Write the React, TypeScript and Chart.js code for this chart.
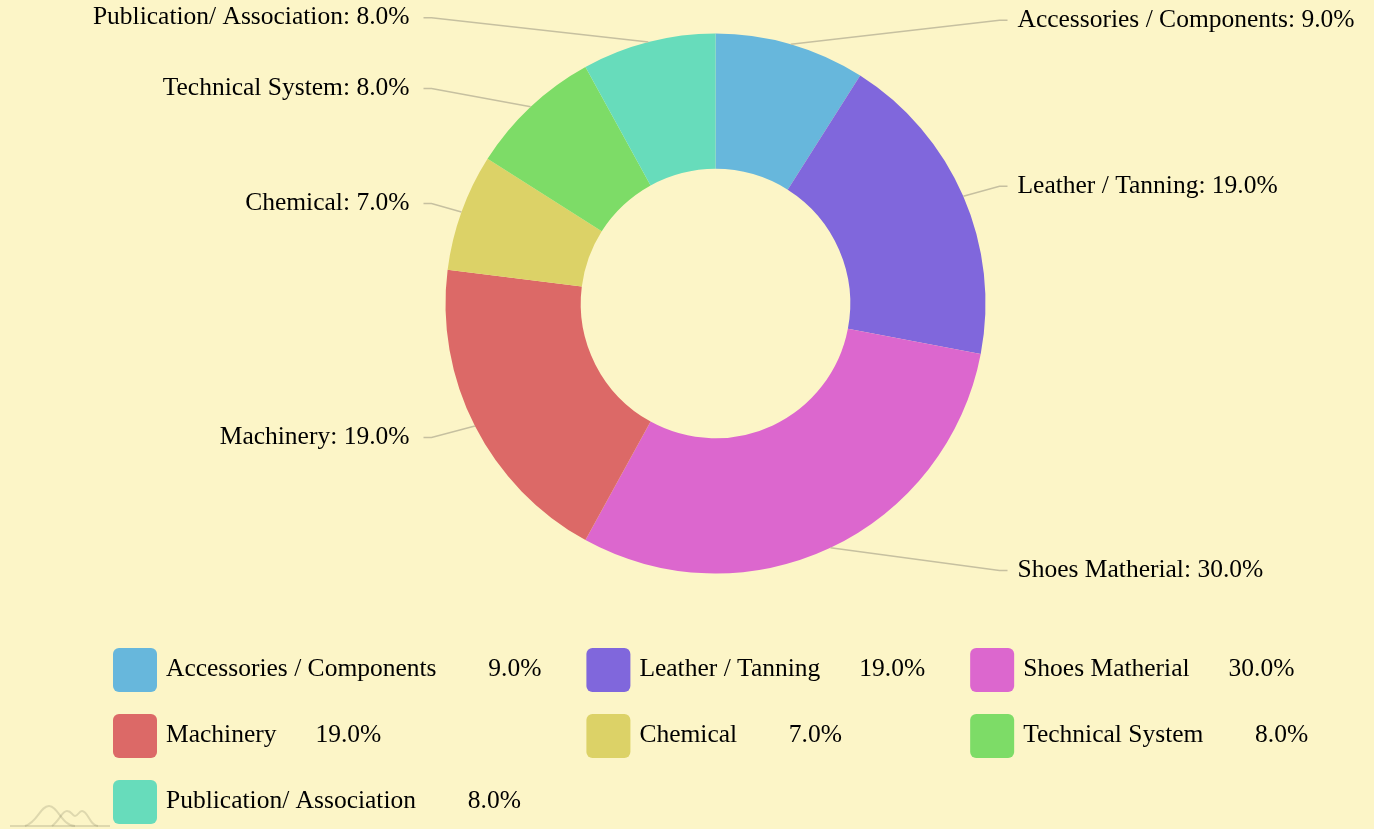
import React, { useEffect, useRef } from 'react';
import { Chart, registerables } from 'chart.js';

Chart.register(...registerables);

// ---- data ----
const categories = [
  'Accessories / Components',
  'Leather / Tanning',
  'Shoes Matherial',
  'Machinery',
  'Chemical',
  'Technical System',
  'Publication/ Association',
];
const shares = [9, 19, 30, 19, 7, 8, 8];
const sliceColors = ['#67b7dc', '#8067dc', '#dc67ce', '#dc6967', '#dcd267', '#7ddc67', '#67dcbb'];

// ---- style ----
const BG = '#fcf5c7';
const FONT = '25.5px "Liberation Serif", "Times New Roman", serif';
const TICK_COLOR = '#c6c0a0';

const pct = (v: number, total: number) => ((v / total) * 100).toFixed(1) + '%';

const outsideLabels = {
  id: 'outsideLabels',
  afterDatasetsDraw(chart: any) {
    const ctx = chart.ctx as CanvasRenderingContext2D;
    const meta = chart.getDatasetMeta(0);
    const data = chart.data.datasets[0].data as number[];
    const labels = chart.data.labels as string[];
    const total = data.reduce((a, b) => a + b, 0);
    ctx.save();
    ctx.font = FONT;
    meta.data.forEach((arc: any, i: number) => {
      const { x, y, startAngle, endAngle, outerRadius } = arc.getProps(
        ['x', 'y', 'startAngle', 'endAngle', 'outerRadius'],
        true
      );
      const mid = (startAngle + endAngle) / 2;
      const c = Math.cos(mid);
      const s = Math.sin(mid);
      const p1x = x + outerRadius * c;
      const p1y = y + outerRadius * s;
      const ly = y + (outerRadius + 25) * s;
      const right = c >= 0;
      const bendX = right ? x + outerRadius + 14 : x - outerRadius - 14;
      const endX = right ? bendX + 8 : bendX - 8;
      ctx.strokeStyle = TICK_COLOR;
      ctx.lineWidth = 1.5;
      ctx.beginPath();
      ctx.moveTo(p1x, p1y);
      ctx.lineTo(bendX, ly);
      ctx.lineTo(endX, ly);
      ctx.stroke();
      ctx.fillStyle = '#000';
      ctx.textAlign = right ? 'left' : 'right';
      ctx.textBaseline = 'middle';
      ctx.fillText(`${labels[i]}: ${pct(data[i], total)}`, right ? endX + 10 : endX - 14, ly);
    });
    ctx.restore();
  },
};

const LEGEND_LEFT = 113;
const LEGEND_TOP = 648;
const LEGEND_COLS = 3;

const bottomLegend = {
  id: 'bottomLegend',
  afterDraw(chart: any) {
    const ctx = chart.ctx as CanvasRenderingContext2D;
    const data = chart.data.datasets[0].data as number[];
    const labels = chart.data.labels as string[];
    const colors = chart.data.datasets[0].backgroundColor as string[];
    const total = data.reduce((a, b) => a + b, 0);
    ctx.save();
    ctx.font = FONT;
    const marker = 44;
    const markerGap = 9;
    const valueGap = 39;
    const colGap = 45;
    const rowH = 66;
    const values = data.map((v) => pct(v, total));
    const valueW = Math.max(...values.map((v) => ctx.measureText(v).width));
    const labelW = labels.map((l) => ctx.measureText(l).width);
    const itemW = labelW.map((w) => marker + markerGap + w + valueGap + valueW);
    const colW: number[] = [];
    for (let c = 0; c < LEGEND_COLS; c++) {
      let m = 0;
      for (let i = c; i < labels.length; i += LEGEND_COLS) m = Math.max(m, itemW[i]);
      colW.push(m + colGap);
    }
    labels.forEach((label, i) => {
      const col = i % LEGEND_COLS;
      const row = Math.floor(i / LEGEND_COLS);
      let mx = LEGEND_LEFT;
      for (let c = 0; c < col; c++) mx += colW[c];
      const my = LEGEND_TOP + row * rowH;
      ctx.fillStyle = colors[i];
      ctx.beginPath();
      (ctx as any).roundRect(mx, my, marker, marker, 6);
      ctx.fill();
      const cy = my + marker / 2;
      ctx.fillStyle = '#000';
      ctx.textBaseline = 'middle';
      ctx.textAlign = 'left';
      const tx = mx + marker + markerGap;
      ctx.fillText(label, tx, cy - 1);
      ctx.textAlign = 'right';
      ctx.fillText(values[i], tx + labelW[i] + valueGap + valueW, cy - 1);
    });

    // faint logo mark at bottom-left
    ctx.strokeStyle = 'rgba(90,90,60,0.18)';
    ctx.lineWidth = 2;
    ctx.beginPath();
    ctx.moveTo(10, 826);
    ctx.lineTo(110, 826);
    ctx.stroke();
    ctx.beginPath();
    ctx.moveTo(25, 826);
    ctx.bezierCurveTo(38, 822, 40, 806, 49, 806);
    ctx.bezierCurveTo(58, 806, 62, 826, 75, 826);
    ctx.stroke();
    ctx.beginPath();
    ctx.moveTo(52, 826);
    ctx.bezierCurveTo(60, 820, 62, 811, 67, 811);
    ctx.bezierCurveTo(72, 811, 72, 816, 75, 816);
    ctx.bezierCurveTo(78, 816, 79, 811, 82, 811);
    ctx.bezierCurveTo(88, 811, 90, 826, 98, 826);
    ctx.stroke();
    ctx.restore();
  },
};

export default function App() {
  const canvasRef = useRef<HTMLCanvasElement | null>(null);

  useEffect(() => {
    document.body.style.margin = '0';
    document.body.style.background = BG;
    const canvas = canvasRef.current;
    if (!canvas) return;
    const chart = new Chart(canvas, {
      type: 'doughnut',
      data: {
        labels: categories,
        datasets: [
          {
            data: shares,
            backgroundColor: sliceColors,
            borderWidth: 0,
            hoverOffset: 0,
            offset: 0,
            radius: 270,
          } as any,
        ],
      },
      options: {
        responsive: false,
        animation: false,
        cutout: 135,
        layout: { padding: { top: 33, bottom: 255, left: 445, right: 388 } },
        plugins: {
          legend: { display: false },
          tooltip: { enabled: false },
        },
      },
      plugins: [outsideLabels, bottomLegend],
    });
    return () => chart.destroy();
  }, []);

  return (
    <div style={{ width: 1374, height: 829, background: BG, overflow: 'hidden' }}>
      <canvas ref={canvasRef} width={1374} height={829} style={{ display: 'block' }} />
    </div>
  );
}
